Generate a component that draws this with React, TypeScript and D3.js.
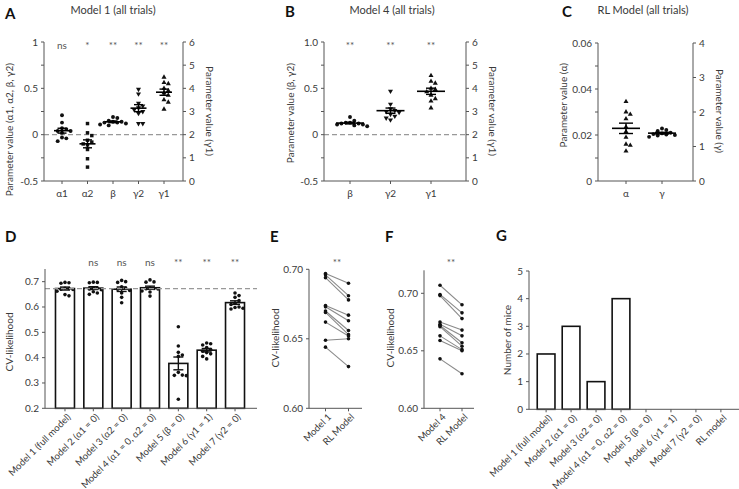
import React from 'react';
import * as d3 from 'd3';

// ---------------- DATA ----------------
// Panel A: Model 1 parameters
const aCats = ['α1', 'α2', 'β', 'γ2', 'γ1'];
const aSig = ['ns', '*', '**', '**', '**'];
const aAlpha1 = [0.21, 0.13, 0.07, 0.06, 0.04, 0.04, 0.02, -0.03, -0.04, -0.07];
const aAlpha2 = [0.12, 0.02, -0.01, -0.06, -0.08, -0.1, -0.11, -0.16, -0.26, -0.35];
const aBeta = [0.19, 0.18, 0.15, 0.14, 0.14, 0.13, 0.13, 0.12, 0.11, 0.1];
const aGamma2 = [0.49, 0.44, 0.34, 0.31, 0.29, 0.27, 0.25, 0.23, 0.12, 0.12];
const aGamma1 = [4.48, 4.25, 4.2, 4.0, 3.9, 3.8, 3.7, 3.5, 3.4, 3.1];
const aLeftTicks = [-0.5, -0.25, 0, 0.25, 0.5, 0.75, 1];
const aRightTicks = [0, 1, 2, 3, 4, 5, 6];

// Panel B: Model 4 parameters
const bCats = ['β', 'γ2', 'γ1'];
const bSig = ['**', '**', '**'];
const bBeta = [0.19, 0.15, 0.13, 0.13, 0.12, 0.12, 0.11, 0.11, 0.1, 0.09];
const bGamma2 = [0.47, 0.33, 0.28, 0.26, 0.25, 0.24, 0.22, 0.2, 0.18, 0.16];
const bGamma1 = [4.55, 4.3, 4.22, 4.0, 3.95, 3.85, 3.7, 3.55, 3.45, 3.15];

// Panel C: RL model parameters
const cCats = ['α', 'γ'];
const cAlpha = [0.0345, 0.03, 0.029, 0.027, 0.0235, 0.0215, 0.019, 0.016, 0.0155, 0.013];
const cGamma = [1.52, 1.48, 1.45, 1.4, 1.38, 1.36, 1.35, 1.33, 1.32, 1.28];
const cLeftTicks = [0, 0.01, 0.02, 0.03, 0.04, 0.05, 0.06];
const cRightTicks = [0, 1, 2, 3, 4];

// Panel D: CV-likelihood per model
const dCats = [
  'Model 1 (full model)',
  'Model 2 (α1 = 0)',
  'Model 3 (α2 = 0)',
  'Model 4 (α1 = 0, α2 = 0)',
  'Model 5 (β = 0)',
  'Model 6 (γ1 = 1)',
  'Model 7 (γ2 = 0)',
];
const dSig = ['', 'ns', 'ns', 'ns', '**', '**', '**'];
const dModel1 = [0.697, 0.696, 0.694, 0.674, 0.673, 0.67, 0.669, 0.662, 0.649, 0.644];
const dModel2 = [0.698, 0.697, 0.696, 0.676, 0.674, 0.671, 0.668, 0.66, 0.655, 0.65];
const dModel3 = [0.705, 0.7, 0.697, 0.68, 0.675, 0.67, 0.665, 0.655, 0.638, 0.617];
const dModel4 = [0.707, 0.699, 0.698, 0.675, 0.673, 0.672, 0.671, 0.663, 0.659, 0.643];
const dModel5 = [0.522, 0.446, 0.421, 0.41, 0.405, 0.342, 0.331, 0.33, 0.329, 0.236];
const dModel6 = [0.458, 0.455, 0.45, 0.44, 0.432, 0.425, 0.42, 0.415, 0.405, 0.395];
const dModel7 = [0.655, 0.645, 0.638, 0.625, 0.615, 0.61, 0.6, 0.598, 0.595, 0.592];
const dTicks = [0.2, 0.3, 0.4, 0.5, 0.6, 0.7];

// Panel E: Model 1 vs RL
const eCats = ['Model 1', 'RL Model'];
const eModel1 = [0.697, 0.696, 0.694, 0.674, 0.673, 0.67, 0.669, 0.662, 0.649, 0.644];
const eRL = [0.69, 0.681, 0.678, 0.667, 0.663, 0.656, 0.653, 0.652, 0.65, 0.63];
const eTicks = [0.6, 0.65, 0.7];

// Panel F: Model 4 vs RL
const fCats = ['Model 4', 'RL Model'];
const fModel4 = [0.707, 0.699, 0.698, 0.675, 0.673, 0.672, 0.671, 0.663, 0.659, 0.643];
const fRL = [0.69, 0.683, 0.678, 0.668, 0.663, 0.657, 0.654, 0.651, 0.65, 0.63];
const fTicks = [0.6, 0.65, 0.7];

// Panel G: best model counts
const gCats = [
  'Model 1 (full model)',
  'Model 2 (α1 = 0)',
  'Model 3 (α2 = 0)',
  'Model 4 (α1 = 0, α2 = 0)',
  'Model 5 (β = 0)',
  'Model 6 (γ1 = 1)',
  'Model 7 (γ2 = 0)',
  'RL model',
];
const gCounts = [2, 3, 1, 4, 0, 0, 0, 0];
const gTicks = [0, 1, 2, 3, 4, 5];

// ---------------- STYLE ----------------
const FONT = "Lato, 'Open Sans', sans-serif";
const TXT = '#3a3a3a';
const AX = '#555';
const FS = 10;

type Shape = 'circle' | 'square' | 'up' | 'down';

function symbolPath(shape: Shape): string {
  const t =
    shape === 'circle' ? d3.symbolCircle : shape === 'square' ? d3.symbolSquare : d3.symbolTriangle;
  const size = shape === 'circle' ? 12 : shape === 'square' ? 12 : 11;
  return d3.symbol().type(t).size(size)() || '';
}

function dodge(values: number[], y: (v: number) => number, spacing: number) {
  const pts = values.map((v, i) => ({ i, v, y: y(v), x: 0 }));
  const sorted = [...pts].sort((a, b) => a.y - b.y);
  const placed: typeof pts = [];
  for (const p of sorted) {
    for (let k = 0; k < 50; k++) {
      const off = k === 0 ? 0 : (k % 2 === 1 ? 1 : -1) * Math.ceil(k / 2) * spacing;
      if (placed.every((q) => Math.hypot(q.x - off, q.y - p.y) >= spacing)) {
        p.x = off;
        break;
      }
    }
    placed.push(p);
  }
  return pts;
}

function stats(values: number[]) {
  const m = d3.mean(values) as number;
  const se = (d3.deviation(values) as number) / Math.sqrt(values.length);
  return { m, se };
}

function VAxis({ x, scale, ticks, fmt, side = 'left', ext }: any) {
  const [r0, r1] = ext || scale.range();
  const dir = side === 'left' ? -1 : 1;
  return (
    <g>
      <line x1={x} x2={x} y1={r0} y2={r1} stroke={AX} strokeWidth={1} />
      {ticks.map((t: number) => {
        const lab = fmt(t);
        return (
          <g key={t}>
            <line x1={x} x2={x + dir * 3} y1={scale(t)} y2={scale(t)} stroke={AX} strokeWidth={1} />
            {lab !== null && (
              <text
                x={x + dir * 6}
                y={scale(t)}
                dy="0.35em"
                textAnchor={side === 'left' ? 'end' : 'start'}
                fontSize={FS}
                fill={TXT}
              >
                {lab}
              </text>
            )}
          </g>
        );
      })}
    </g>
  );
}

function HAxis({ y, x0, x1, ticks }: any) {
  return (
    <g>
      <line x1={x0} x2={x1} y1={y} y2={y} stroke={AX} strokeWidth={1} />
      {ticks.map((t: number, i: number) => (
        <line key={i} x1={t} x2={t} y1={y} y2={y + 3} stroke={AX} strokeWidth={1} />
      ))}
    </g>
  );
}

function Scatter({ cx, values, y, shape, spacing = 4.3, meanW = 16, capW = 9 }: any) {
  const pts = dodge(values, y, spacing);
  const { m, se } = stats(values);
  const path = symbolPath(shape);
  return (
    <g>
      {pts.map((p: any) => (
        <path
          key={p.i}
          d={path}
          transform={`translate(${cx + p.x},${p.y})${shape === 'down' ? ' rotate(180)' : ''}`}
          fill="#111"
        />
      ))}
      <line x1={cx - meanW / 2} x2={cx + meanW / 2} y1={y(m)} y2={y(m)} stroke="#000" strokeWidth={1.6} />
      <line x1={cx} x2={cx} y1={y(m - se)} y2={y(m + se)} stroke="#000" strokeWidth={1.4} />
      <line x1={cx - capW / 2} x2={cx + capW / 2} y1={y(m + se)} y2={y(m + se)} stroke="#000" strokeWidth={1.4} />
      <line x1={cx - capW / 2} x2={cx + capW / 2} y1={y(m - se)} y2={y(m - se)} stroke="#000" strokeWidth={1.4} />
    </g>
  );
}

function Letter({ x, y, t }: any) {
  return (
    <text x={x} y={y} fontSize={15} fontWeight="bold" fill="#111">
      {t}
    </text>
  );
}

function Title({ x, y, t }: any) {
  return (
    <text x={x} y={y} fontSize={11} textAnchor="middle" fill={TXT}>
      {t}
    </text>
  );
}

function YLabel({ x, y, t, anchor = 'middle', rot = -90 }: any) {
  return (
    <text transform={`translate(${x},${y}) rotate(${rot})`} textAnchor={anchor} fontSize={FS} fill={TXT}>
      {t}
    </text>
  );
}

function RotLabels({ cats, xs, y, fs = 9.5 }: any) {
  return (
    <g>
      {cats.map((c: string, i: number) => (
        <text
          key={i}
          transform={`translate(${xs[i] + 4},${y + 7}) rotate(-45)`}
          textAnchor="end"
          dy="0.35em"
          fontSize={fs}
          fill={TXT}
        >
          {c}
        </text>
      ))}
    </g>
  );
}

// ---------------- PANELS ----------------
function PanelA() {
  const x = d3.scalePoint<string>().domain(aCats).range([62, 164]);
  const yL = d3.scaleLinear().domain([-0.5, 1]).range([181, 42]);
  const yR = d3.scaleLinear().domain([0, 6]).range([181, 42]);
  const series = [aAlpha1, aAlpha2, aBeta, aGamma2, aGamma1];
  const shapes: Shape[] = ['circle', 'square', 'circle', 'down', 'up'];
  const right = [false, false, false, false, true];
  return (
    <g>
      <Letter x={5} y={19} t="A" />
      <Title x={113} y={14} t="Model 1 (all trials)" />
      <line x1={44} x2={183} y1={yL(0)} y2={yL(0)} stroke="#999" strokeWidth={1.3} strokeDasharray="5,3" />
      <VAxis x={44} scale={yL} ticks={aLeftTicks} fmt={(t: number) => (t === 1 ? '1' : t === 0 ? '0' : Math.abs(t % 0.5) < 1e-9 ? String(t) : null)} />
      <VAxis x={183} scale={yR} ticks={aRightTicks} fmt={(t: number) => String(t)} side="right" />
      <HAxis y={181} x0={44} x1={183} ticks={aCats.map((c) => x(c))} />
      {aCats.map((c, i) => (
        <g key={c}>
          <text x={x(c)} y={197} textAnchor="middle" fontSize={FS} fill={TXT}>{c}</text>
          <text x={x(c)} y={49} textAnchor="middle" fontSize={FS} fill="#555">{aSig[i]}</text>
          <Scatter cx={x(c) as number} values={series[i]} y={right[i] ? yR : yL} shape={shapes[i]} />
        </g>
      ))}
      <YLabel x={13} y={63} t="Parameter value (α1, α2, β, γ2)" anchor="end" />
      <YLabel x={206} y={111} t="Parameter value (γ1)" rot={90} />
    </g>
  );
}

function PanelB() {
  const x = d3.scalePoint<string>().domain(bCats).range([350, 431]);
  const yL = d3.scaleLinear().domain([-0.5, 1]).range([181, 42]);
  const yR = d3.scaleLinear().domain([0, 6]).range([181, 42]);
  const series = [bBeta, bGamma2, bGamma1];
  const shapes: Shape[] = ['circle', 'down', 'up'];
  const right = [false, false, true];
  return (
    <g>
      <Letter x={285} y={17} t="B" />
      <Title x={392} y={14} t="Model 4 (all trials)" />
      <line x1={324} x2={466} y1={yL(0)} y2={yL(0)} stroke="#999" strokeWidth={1.3} strokeDasharray="5,3" />
      <VAxis x={324} scale={yL} ticks={aLeftTicks} fmt={(t: number) => (t === 1 ? '1.0' : t === 0 ? '0' : Math.abs(t % 0.5) < 1e-9 ? String(t) : null)} />
      <VAxis x={466} scale={yR} ticks={aRightTicks} fmt={(t: number) => String(t)} side="right" />
      <HAxis y={181} x0={324} x1={466} ticks={bCats.map((c) => x(c))} />
      {bCats.map((c, i) => (
        <g key={c}>
          <text x={x(c)} y={197} textAnchor="middle" fontSize={FS} fill={TXT}>{c}</text>
          <text x={x(c)} y={49} textAnchor="middle" fontSize={FS} fill="#555">{bSig[i]}</text>
          <Scatter cx={x(c) as number} values={series[i]} y={right[i] ? yR : yL} shape={shapes[i]} meanW={28} capW={10} />
        </g>
      ))}
      <YLabel x={294} y={63} t="Parameter value (β, γ2)" anchor="end" />
      <YLabel x={489} y={111} t="Parameter value (γ1)" rot={90} />
    </g>
  );
}

function PanelC() {
  const x = d3.scalePoint<string>().domain(cCats).range([626, 662]);
  const yL = d3.scaleLinear().domain([0, 0.06]).range([181, 43]);
  const yR = d3.scaleLinear().domain([0, 4]).range([181, 43]);
  const series = [cAlpha, cGamma];
  const shapes: Shape[] = ['up', 'circle'];
  const right = [false, true];
  return (
    <g>
      <Letter x={562} y={17} t="C" />
      <Title x={643} y={14} t="RL Model (all trials)" />
      <VAxis x={598} scale={yL} ticks={cLeftTicks} fmt={(t: number) => (Math.round(t * 100) % 2 === 0 ? (t === 0 ? '0' : t.toFixed(2)) : null)} />
      <VAxis x={693} scale={yR} ticks={cRightTicks} fmt={(t: number) => String(t)} side="right" />
      <HAxis y={181} x0={598} x1={693} ticks={cCats.map((c) => x(c))} />
      {cCats.map((c, i) => (
        <g key={c}>
          <text x={x(c)} y={197} textAnchor="middle" fontSize={FS} fill={TXT}>{c}</text>
          <Scatter cx={x(c) as number} values={series[i]} y={right[i] ? yR : yL} shape={shapes[i]} meanW={28} capW={14} />
        </g>
      ))}
      <YLabel x={567} y={63} t="Parameter value (α)" anchor="end" />
      <YLabel x={716} y={111} t="Parameter value (γ)" rot={90} />
    </g>
  );
}

function PanelD() {
  const x = d3.scaleBand<string>().domain(dCats).range([45, 255]).paddingInner(0.33).paddingOuter(0.37);
  const y = d3.scaleLinear().domain([0.2, 0.75]).range([408.3, 269]);
  const series = [dModel1, dModel2, dModel3, dModel4, dModel5, dModel6, dModel7];
  const ref = d3.mean(dModel1) as number;
  const centers = dCats.map((c) => (x(c) as number) + x.bandwidth() / 2);
  return (
    <g>
      <Letter x={5} y={242} t="D" />
      {dCats.map((c, i) => {
        const { m, se } = stats(series[i]);
        const cx = centers[i];
        const pts = dodge(series[i], y, 4);
        return (
          <g key={c}>
            <rect x={x(c)} y={y(m)} width={x.bandwidth()} height={y(0.2) - y(m)} fill="#fff" stroke="#111" strokeWidth={1.6} />
            {pts.map((p) => (
              <circle key={p.i} cx={cx + p.x} cy={p.y} r={1.8} fill="#111" />
            ))}
            <line x1={cx} x2={cx} y1={y(m - se)} y2={y(m + se)} stroke="#111" strokeWidth={1.4} />
            <line x1={cx - 5} x2={cx + 5} y1={y(m + se)} y2={y(m + se)} stroke="#111" strokeWidth={1.4} />
            <line x1={cx - 5} x2={cx + 5} y1={y(m - se)} y2={y(m - se)} stroke="#111" strokeWidth={1.4} />
            <text x={cx} y={266} textAnchor="middle" fontSize={FS} fill="#555">{dSig[i]}</text>
          </g>
        );
      })}
      <line x1={45} x2={257} y1={y(ref)} y2={y(ref)} stroke="#999" strokeWidth={1.3} strokeDasharray="5,3" />
      <VAxis x={45} scale={y} ticks={dTicks} fmt={(t: number) => t.toFixed(1)} />
      <HAxis y={408.3} x0={45} x1={257} ticks={centers} />
      <RotLabels cats={dCats} xs={centers} y={408.3} />
      <YLabel x={13} y={342} t="CV-likelihood" />
    </g>
  );
}

function Paired({ letter, lx, cats, a, b, x0, x1, xs, y, ticks, ext }: any) {
  const x = d3.scalePoint<string>().domain(cats).range(xs);
  const xa = x(cats[0]) as number;
  const xb = x(cats[1]) as number;
  return (
    <g>
      <Letter x={lx} y={242} t={letter} />
      {a.map((v: number, i: number) => (
        <line key={i} x1={xa} x2={xb} y1={y(v)} y2={y(b[i])} stroke="#8a8a8a" strokeWidth={1.1} />
      ))}
      {a.map((v: number, i: number) => (
        <g key={'p' + i}>
          <circle cx={xa} cy={y(v)} r={1.8} fill="#111" />
          <circle cx={xb} cy={y(b[i])} r={1.8} fill="#111" />
        </g>
      ))}
      <text x={(xa + xb) / 2} y={266} textAnchor="middle" fontSize={FS} fill="#555">**</text>
      <VAxis x={x0} scale={y} ticks={ticks} fmt={(t: number) => t.toFixed(2)} ext={ext} />
      <HAxis y={408.3} x0={x0} x1={x1} ticks={[xa, xb]} />
      <RotLabels cats={cats} xs={[xa, xb]} y={408.3} />
    </g>
  );
}

function PanelE() {
  const y = d3.scaleLinear().domain([0.6, 0.7]).range([408.3, 269.3]);
  return (
    <g>
      <Paired letter="E" lx={270} cats={eCats} a={eModel1} b={eRL} x0={309} x1={362} xs={[325.5, 348.5]} y={y} ticks={eTicks} />
      <YLabel x={279} y={338} t="CV-likelihood" />
    </g>
  );
}

function PanelF() {
  const y = d3.scaleLinear().domain([0.6, 0.72]).range([408.3, 270.3]);
  return (
    <g>
      <Paired letter="F" lx={385} cats={fCats} a={fModel4} b={fRL} x0={424} x1={474} xs={[440, 462]} y={y} ticks={fTicks} />
      <YLabel x={394} y={338} t="CV-likelihood" />
    </g>
  );
}

function PanelG() {
  const x = d3.scaleBand<string>().domain(gCats).range([529, 738]).paddingInner(0.29).paddingOuter(0.33);
  const y = d3.scaleLinear().domain([0, 5]).range([409.3, 271]);
  const centers = gCats.map((c) => (x(c) as number) + x.bandwidth() / 2);
  return (
    <g>
      <Letter x={496} y={241} t="G" />
      {gCats.map((c, i) =>
        gCounts[i] > 0 ? (
          <rect key={c} x={x(c)} y={y(gCounts[i])} width={x.bandwidth()} height={y(0) - y(gCounts[i])} fill="#fff" stroke="#111" strokeWidth={1.6} />
        ) : null
      )}
      <VAxis x={529} scale={y} ticks={gTicks} fmt={(t: number) => String(t)} />
      <HAxis y={409.3} x0={529} x1={739} ticks={centers} />
      <RotLabels cats={gCats} xs={centers} y={409.3} />
      <YLabel x={511} y={340} t="Number of mice" />
    </g>
  );
}

export default function App() {
  return (
    <svg
      width={739}
      height={489}
      viewBox="0 0 739 489"
      style={{ position: 'absolute', left: 0, top: 0, background: '#fff' }}
      fontFamily={FONT}
    >
      <rect width={739} height={489} fill="#fff" />
      <PanelA />
      <PanelB />
      <PanelC />
      <PanelD />
      <PanelE />
      <PanelF />
      <PanelG />
    </svg>
  );
}
